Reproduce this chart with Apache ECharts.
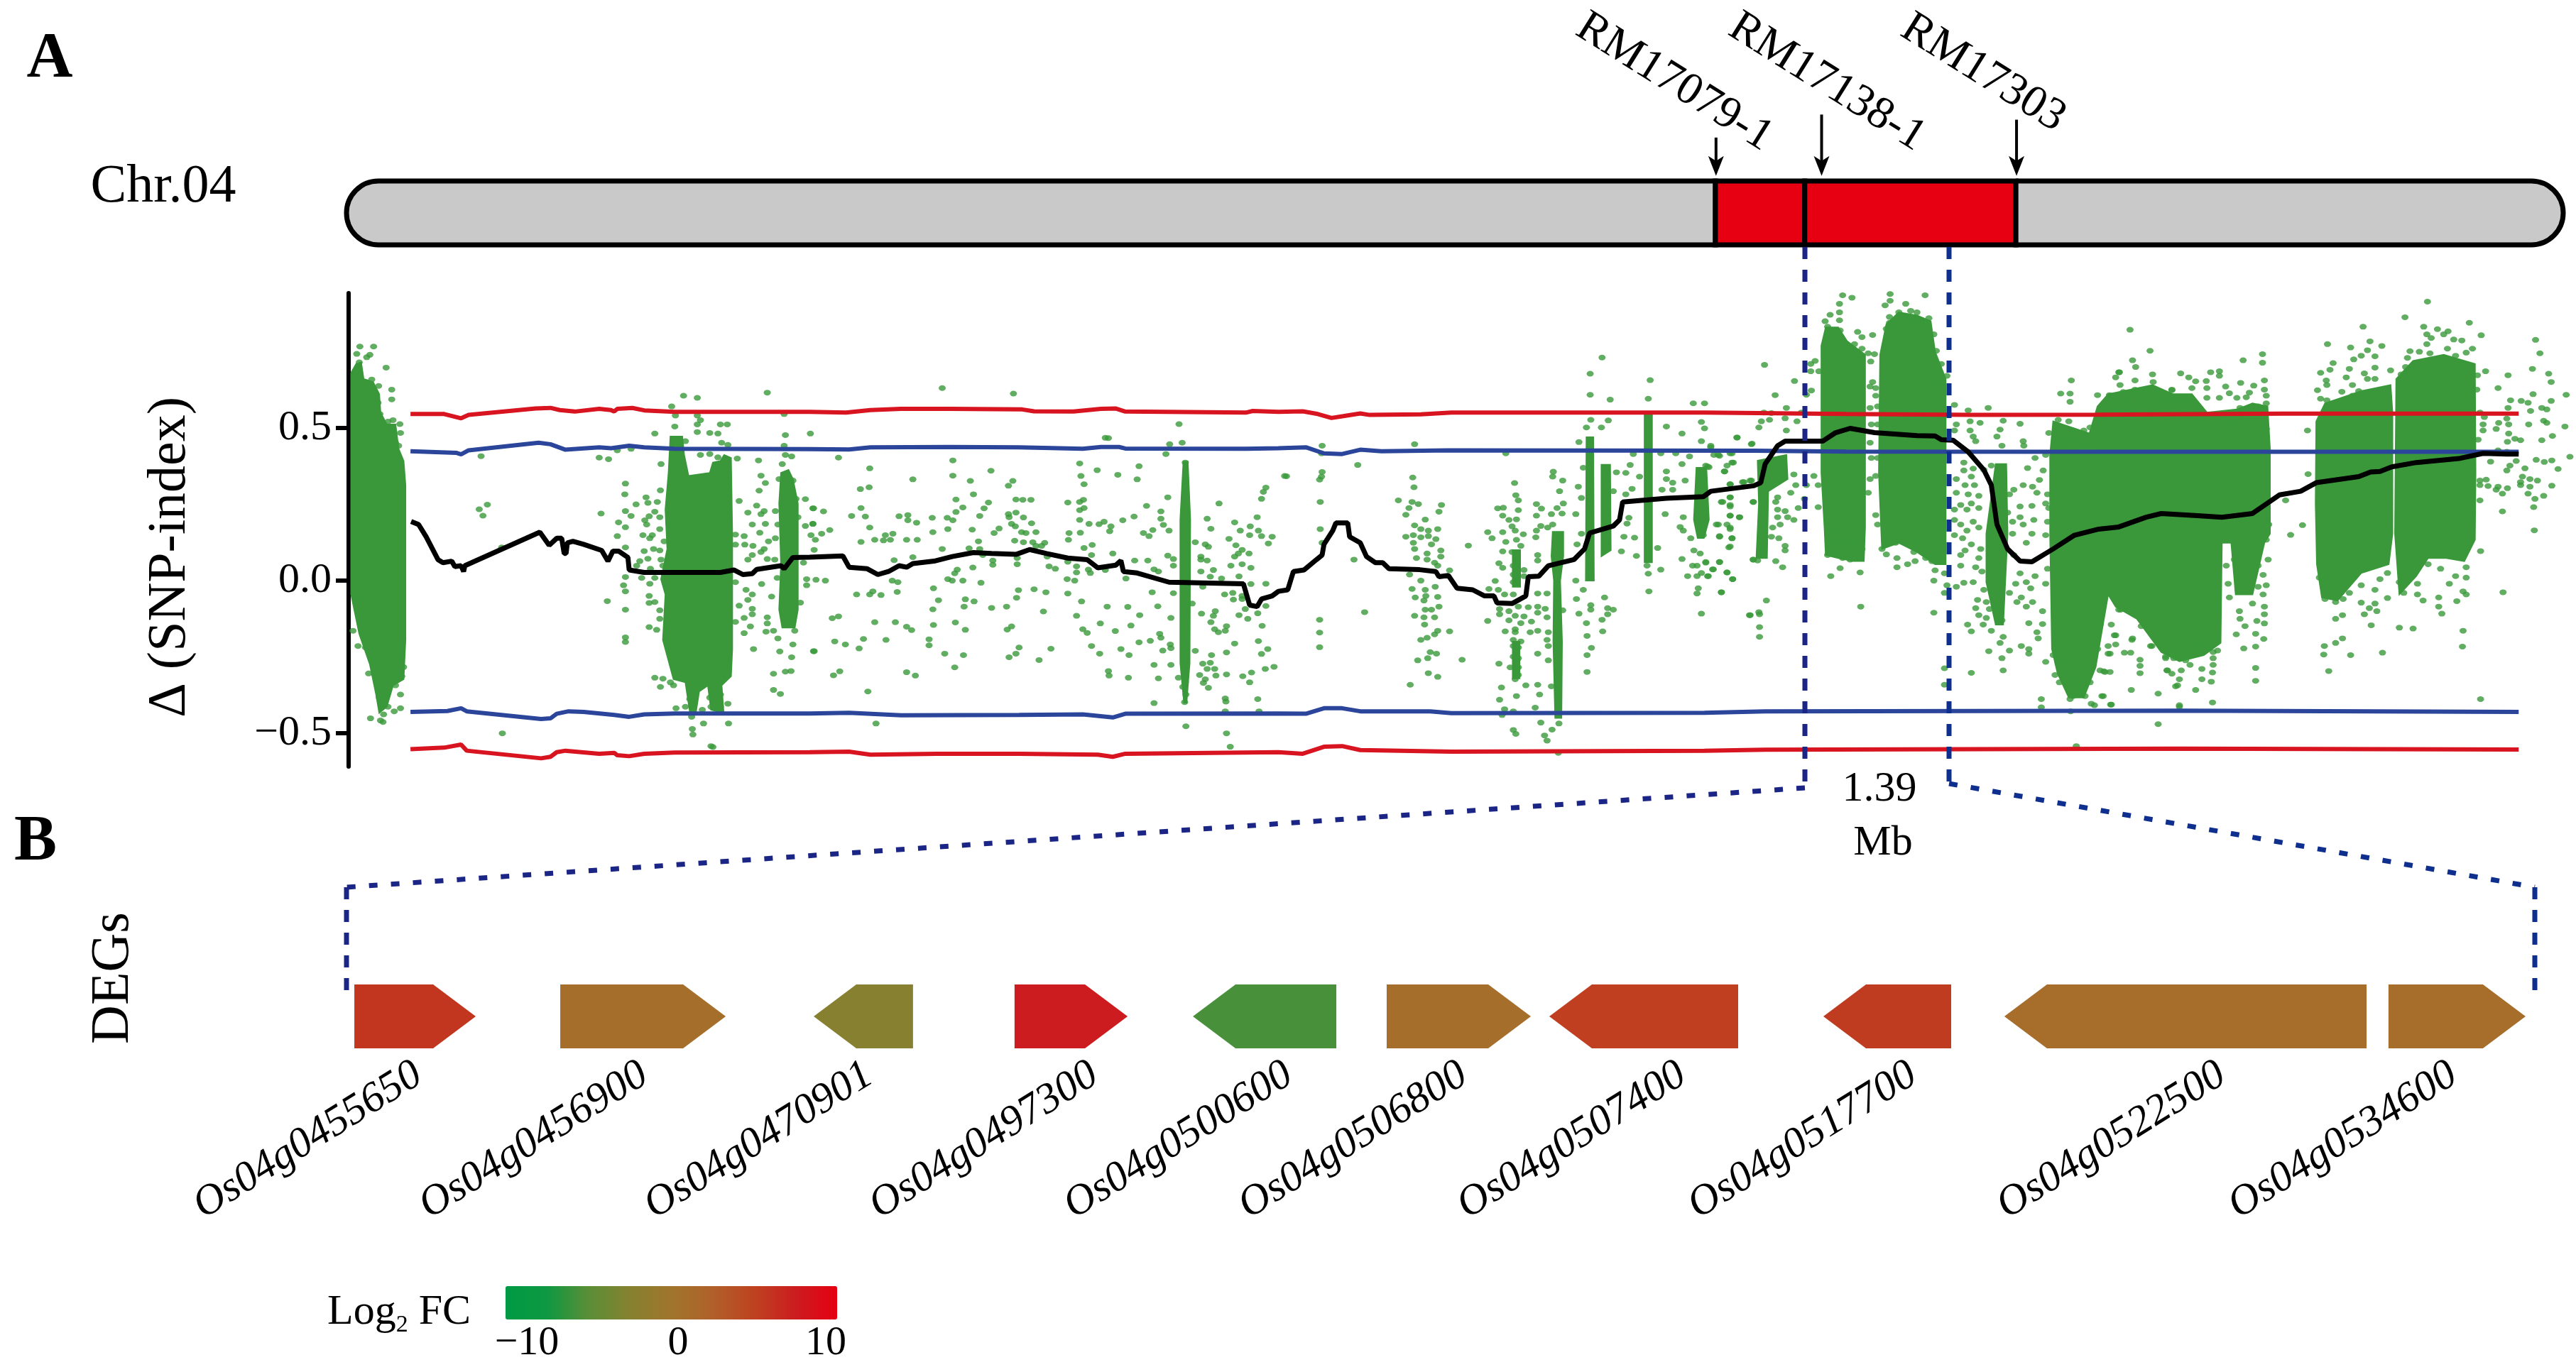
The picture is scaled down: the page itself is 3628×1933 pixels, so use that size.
<!DOCTYPE html>
<html><head><meta charset="utf-8">
<style>html,body{margin:0;padding:0;background:#fff}#c{width:3628px;height:1933px}</style>
<script src="https://cdn.jsdelivr.net/npm/echarts@6/dist/echarts.min.js"></script>
</head><body><div id="c"></div>
<script>
// Positions are in Mb along chromosome 4; y values are delta SNP-index.
const redUpper=[[1.02,.546],[1.56,.546],[1.83,.532],[1.95,.543],[3.02,.564],[3.26,.566],[3.41,.559],[3.65,.554],[4.04,.563],[4.23,.559],[4.28,.554],[4.33,.563],[4.57,.566],[4.76,.558],[5.25,.553],[7.41,.553],[7.99,.551],[8.38,.559],[8.87,.563],[9.64,.563],[10.81,.561],[11.0,.555],[11.63,.554],[12.07,.563],[12.31,.564],[12.46,.554],[14.40,.551],[14.50,.556],[14.91,.553],[15.30,.555],[15.54,.546],[15.76,.533],[15.95,.539],[16.22,.548],[16.37,.543],[17.19,.545],[17.68,.551],[21.73,.551],[24,.546],[26,.543],[28,.544],[31,.547],[34.76,.547]];
const blueUpper=[[1.02,.424],[1.75,.419],[1.83,.414],[1.95,.427],[3.07,.452],[3.26,.447],[3.50,.429],[4.04,.437],[4.23,.434],[4.52,.442],[4.76,.437],[5.25,.432],[7.41,.431],[8.04,.430],[8.38,.437],[9.64,.438],[10.76,.437],[11.78,.432],[12.07,.438],[12.36,.438],[12.46,.433],[14.40,.432],[14.91,.434],[15.35,.437],[15.64,.417],[15.93,.415],[16.22,.429],[16.56,.424],[17.63,.427],[22.52,.426],[24,.423],[28,.422],[34.76,.422]];
const blueLower=[[1.02,-.430],[1.61,-.427],[1.83,-.418],[1.92,-.428],[3.11,-.453],[3.26,-.451],[3.36,-.436],[3.55,-.428],[3.79,-.430],[4.28,-.440],[4.52,-.446],[4.76,-.438],[5.25,-.435],[7.41,-.435],[8.04,-.433],[8.87,-.441],[10.76,-.440],[11.78,-.438],[12.26,-.448],[12.46,-.436],[14.91,-.435],[15.35,-.436],[15.64,-.418],[15.93,-.418],[16.22,-.428],[17.34,-.428],[17.68,-.434],[21.73,-.433],[22.7,-.428],[29.34,-.426],[34.76,-.430]];
const redLower=[[1.02,-.552],[1.56,-.547],[1.83,-.537],[1.92,-.557],[3.11,-.582],[3.26,-.577],[3.36,-.562],[3.50,-.557],[4.04,-.567],[4.28,-.564],[4.33,-.572],[4.52,-.575],[4.76,-.567],[5.25,-.563],[7.41,-.562],[8.04,-.560],[8.38,-.570],[9.45,-.567],[10.76,-.567],[12.02,-.570],[12.26,-.577],[12.46,-.567],[14.91,-.562],[15.30,-.567],[15.64,-.544],[15.93,-.542],[16.22,-.555],[17.68,-.560],[21.73,-.557],[22.7,-.554],[29.34,-.550],[34.76,-.553]];
const snpIndexMean=[[1.03,.194],[1.15,.184],[1.27,.144],[1.46,.069],[1.54,.059],[1.68,.064],[1.73,.046],[1.83,.049],[1.87,.030],[1.89,.049],[3.09,.159],[3.24,.116],[3.36,.139],[3.44,.139],[3.48,.089],[3.51,.089],[3.53,.124],[3.62,.129],[3.79,.119],[4.08,.099],[4.18,.064],[4.26,.097],[4.35,.097],[4.50,.076],[4.52,.035],[4.76,.027],[5.98,.027],[6.20,.035],[6.34,.020],[6.49,.023],[6.56,.037],[6.95,.049],[7.00,.039],[7.14,.076],[7.41,.077],[7.94,.081],[8.04,.044],[8.33,.039],[8.50,.020],[8.67,.030],[8.84,.049],[8.96,.044],[9.06,.056],[9.40,.064],[9.69,.079],[10.03,.092],[10.32,.089],[10.71,.086],[10.93,.102],[11.20,.089],[11.54,.074],[11.85,.069],[12.02,.042],[12.31,.051],[12.39,.066],[12.43,.030],[12.65,.025],[13.16,-.005],[14.35,-.010],[14.45,-.080],[14.57,-.085],[14.64,-.060],[14.81,-.050],[14.91,-.035],[15.06,-.030],[15.15,.030],[15.32,.035],[15.52,.069],[15.61,.084],[15.64,.119],[15.78,.164],[15.83,.189],[16.02,.189],[16.05,.144],[16.22,.124],[16.32,.079],[16.46,.059],[16.58,.059],[16.68,.039],[17.17,.036],[17.43,.030],[17.48,.013],[17.63,.017],[17.77,-.025],[18.02,-.030],[18.21,-.050],[18.36,-.050],[18.41,-.073],[18.65,-.075],[18.87,-.050],[18.91,.013],[19.08,.015],[19.23,.049],[19.64,.069],[19.81,.104],[19.89,.156],[20.27,.179],[20.37,.199],[20.42,.258],[21.12,.270],[21.71,.275],[21.83,.293],[22.52,.311],[22.63,.321],[22.70,.382],[22.90,.442],[23.02,.457],[23.62,.457],[23.82,.484],[24.06,.499],[24.45,.485],[25.13,.475],[25.42,.474],[25.52,.462],[25.71,.460],[25.95,.422],[26.20,.363],[26.32,.313],[26.41,.184],[26.58,.104],[26.78,.064],[26.97,.062],[27.31,.104],[27.65,.149],[28.04,.169],[28.36,.176],[28.80,.208],[29.04,.220],[29.62,.213],[30.01,.208],[30.50,.220],[30.93,.281],[31.27,.293],[31.52,.321],[32.20,.341],[32.39,.356],[32.54,.358],[32.73,.373],[33.12,.387],[33.80,.400],[34.19,.417],[34.57,.415],[34.76,.415]];

// Outlines of the regions where SNPs overlap into solid colour: [Mb, delta SNP-index]
const denseSnpAreas=[
[[.07,.681],[.15,.710],[.23,.715],[.27,.661],[.42,.651],[.52,.611],[.54,.551],[.64,.512],[.78,.512],[.83,.432],[.91,.392],[.94,.313],[.94,-.194],[.91,-.323],[.74,-.343],[.64,-.413],[.52,-.433],[.47,-.373],[.37,-.274],[.20,-.174],[.07,-.045]],
[[5.18,.472],[5.37,.472],[5.40,.412],[5.47,.343],[5.81,.353],[5.86,.387],[5.98,.392],[6.04,.412],[6.15,.402],[6.17,.154],[6.17,-.224],[6.15,-.313],[6.00,-.343],[6.03,-.428],[5.93,-.428],[5.83,-.423],[5.78,-.343],[5.64,-.363],[5.59,-.428],[5.49,-.428],[5.42,-.333],[5.23,-.323],[5.06,-.194],[5.10,-.045],[5.03,.005],[5.13,.104],[5.10,.233],[5.15,.353]],
[[6.95,.353],[7.07,.363],[7.14,.333],[7.22,.253],[7.22,-.095],[7.17,-.154],[6.97,-.154],[6.92,-.095],[6.95,.054],[6.92,.253]],
[[13.39,.39],[13.46,.39],[13.50,.2],[13.49,-.27],[13.44,-.40],[13.40,-.40],[13.34,-.27],[13.34,.2]],
[[18.66,.1],[18.78,.1],[18.78,-.02],[18.66,-.02]],
[[18.66,-.20],[18.77,-.20],[18.77,-.32],[18.66,-.32]],
[[19.30,.16],[19.47,.16],[19.47,.08],[19.42,0],[19.45,-.2],[19.44,-.45],[19.34,-.45],[19.31,-.2],[19.32,0],[19.28,.08]],
[[19.84,.47],[19.95,.47],[19.96,0],[19.83,0]],
[[20.08,.38],[20.22,.38],[20.23,.1],[20.08,.08]],
[[20.77,.55],[20.89,.55],[20.89,.06],[20.77,.06]],
[[21.60,.37],[21.76,.37],[21.80,.2],[21.72,.14],[21.62,.14],[21.56,.2]],
[[22.58,.393],[23.04,.412],[23.06,.333],[22.75,.293],[22.73,.074],[22.56,.074],[22.60,.253]],
[[23.60,.770],[23.67,.830],[23.87,.830],[24.01,.785],[24.30,.740],[24.30,.174],[24.28,.064],[24.11,.064],[23.87,.074],[23.67,.084],[23.65,.174],[23.60,.353]],
[[24.54,.740],[24.64,.840],[24.84,.879],[25.13,.869],[25.35,.850],[25.42,.750],[25.59,.661],[25.59,.054],[25.42,.054],[25.13,.094],[24.84,.124],[24.57,.104],[24.52,.353]],
[[26.39,.382],[26.56,.382],[26.58,.154],[26.51,-.144],[26.39,-.144],[26.24,-.005],[26.24,.154]],
[[27.26,.412],[27.31,.522],[27.89,.482],[28.02,.571],[28.19,.611],[28.90,.641],[29.23,.611],[29.53,.611],[29.77,.551],[30.25,.561],[30.50,.581],[30.74,.571],[30.78,.432],[30.78,.154],[30.69,.124],[30.50,-.045],[30.23,-.045],[30.16,.124],[30.01,.124],[29.99,-.204],[29.72,-.244],[29.33,-.264],[29.04,-.234],[28.65,-.125],[28.31,-.085],[28.19,-.045],[27.99,-.283],[27.80,-.383],[27.56,-.383],[27.38,-.303],[27.29,-.224],[27.26,.154]],
[[31.52,.522],[31.66,.581],[31.95,.601],[32.24,.621],[32.71,.641],[32.74,.551],[32.74,.154],[32.68,.054],[32.24,.025],[31.86,-.065],[31.61,-.055],[31.53,.054],[31.51,.253]],
[[32.80,.661],[33.07,.720],[33.56,.740],[34.06,.710],[34.07,.353],[34.06,.134],[33.89,.064],[33.60,.074],[33.31,.074],[33.12,.015],[32.85,-.045],[32.78,.154]]
];

const dotsFirstRegion=[[.21,.767],[.43,.767],[.16,.743],[.37,.740],[.32,.732],[.20,.715],[.63,.698],[.40,.659],[.51,.638],[.72,.626],[.72,.594],[.50,.583],[.53,.546],[.74,.526],[.85,.513],[.66,.521],[.73,.497],[.86,.484],[.78,.452],[.83,.442],[2.15,.408],[2.12,.234],[2.25,.249],[2.18,.213],[2.48,.109],[.13,-.055],[.10,-.164],[.23,-.105],[.27,-.184],[.18,-.214],[.40,-.254],[.30,-.219],[.35,-.304],[.44,-.304],[.52,-.353],[.64,-.373],[.57,-.413],[.66,-.413],[.76,-.428],[.86,-.418],[.86,-.373],[.78,-.343],[.88,-.313],[.91,-.283],[.52,-.383],[.59,-.438],[.38,-.451],[.54,-.458],[.58,-.463],
[5.39,.606],[5.61,.599],[5.20,.571],[5.26,.541],[5.61,.541],[5.66,.526],[5.25,.505],[5.61,.512],[5.98,.512],[6.09,.512],[5.81,.484],[5.94,.482],[5.61,.487],[4.93,.482],[6.00,.452],[6.10,.445],[5.42,.457],[4.04,.403],[4.19,.398],[4.33,.427],[4.55,.432],[6.25,.400],[5.03,.382],[5.66,.412],[5.81,.415],[5.94,.404],[4.46,.318],[4.45,.283],[5.02,.296],[4.79,.273],[4.63,.250],[4.82,.255],[4.97,.258],[4.07,.220],[4.46,.228],[4.55,.212],[4.93,.226],[4.84,.211],[5.01,.208],[4.77,.198],[4.35,.191],[4.80,.184],[4.46,.175],[5.01,.169],[4.33,.146],[4.74,.149],[4.89,.149],[4.85,.139],[5.08,.129],[4.76,.097],[4.91,.104],[5.01,.099],[4.46,.109],[4.82,.072],[4.69,.064],[4.64,.049],[5.03,.069],[5.06,.049],[4.86,.039],[4.72,.009],[4.93,.009],[4.46,.012],[4.85,-.010],[4.43,-.015],[4.46,-.035],[4.17,-.067],[4.84,-.050],[4.84,-.073],[4.93,-.070],[5.01,-.097],[4.46,-.095],[5.01,-.125],[4.84,-.152],[4.96,-.161],[4.46,-.186],[4.46,-.201],[4.93,-.318],[5.06,-.321],[5.02,-.348],[5.18,-.333],[5.23,-.343],
[5.49,-.388],[5.42,-.413],[5.27,-.418],[5.54,-.413],[5.69,-.423],[5.83,-.413],[5.98,-.413],[6.10,-.403],[5.52,-.446],[5.71,-.468],[6.11,-.468],[5.53,-.486],[5.54,-.504],[5.83,-.542],[2.49,-.500],[5.86,-.545],[5.56,-.363],[5.81,-.383],[5.98,-.373],[6.08,-.313],[5.59,-.343],
[6.73,.616],[7.00,.546],[7.02,.477],[7.42,.482],[7.00,.442],[7.02,.412],[7.12,.407],[6.59,.394],[6.97,.382],[6.63,.344],[6.70,.320],[6.92,.333],[7.14,.328],[6.60,.295],[6.28,.261],[7.19,.268],[7.34,.267],[6.56,.246],[6.42,.223],[6.68,.228],[6.86,.228],[6.63,.218],[7.46,.237],[7.22,.208],[6.49,.184],[6.70,.186],[6.90,.184],[7.34,.179],[7.46,.186],[6.22,.151],[6.36,.146],[6.61,.157],[6.86,.139],[6.75,.129],[6.22,.118],[6.37,.118],[6.50,.114],[6.68,.104],[6.63,.094],[6.49,.084],[6.42,.069],[6.73,.071],[6.85,.069],[7.31,.059],[6.89,.009],[7.36,.005],[6.22,-.005],[6.64,-.011],[7.36,-.015],[6.39,-.030],[6.49,-.045],[6.42,-.063],[6.80,-.052],[7.26,-.072],[6.28,-.082],[6.49,-.092],[6.49,-.110],[6.36,-.122],[6.73,-.120],[6.22,-.135],[6.73,-.140],[6.46,-.150],[6.36,-.172],[6.71,-.167],[6.83,-.164],[6.90,-.189],[7.17,-.164],[7.14,-.209],[6.51,-.224],[6.93,-.232],[7.47,-.231],[7.12,-.251],[6.83,-.305],[7.02,-.298],[7.11,-.296],[6.83,-.358],[6.94,-.371]];

const dotsSecondRegion=[[9.53,.631],[10.67,.613],[7.87,.403],[8.37,.368],[9.70,.394],[10.31,.360],[9.06,.332],[9.70,.344],[9.98,.327],[10.66,.327],[10.59,.311],[8.22,.300],[8.36,.306],[10.03,.283],[9.75,.266],[10.27,.256],[10.71,.266],[10.82,.265],[10.95,.265],[9.86,.240],[10.20,.237],[9.75,.225],[8.23,.238],[7.47,.237],[7.63,.227],[8.08,.212],[8.30,.210],[8.84,.211],[8.98,.215],[8.98,.198],[9.37,.206],[9.61,.206],[9.70,.198],[10.13,.212],[10.59,.218],[10.71,.223],[10.60,.208],[10.83,.207],[10.64,.186],[10.96,.188],[9.12,.190],[7.46,.186],[8.37,.174],[9.62,.169],[10.01,.167],[10.44,.171],[10.70,.178],[7.73,.166],[9.38,.159],[10.36,.156],[10.80,.159],[11.03,.159],[10.87,.156],[7.60,.154],[8.62,.149],[8.74,.154],[7.43,.149],[8.45,.134],[8.59,.132],[8.70,.134],[8.96,.134],[9.13,.134],[7.50,.134],[8.23,.127],[10.11,.129],[10.69,.131],[10.83,.126],[10.98,.126],[11.17,.124],[7.48,.101],[9.53,.104],[9.96,.106],[10.13,.104],[11.03,.114],[11.12,.114],[9.06,.077],[8.76,.067],[10.18,.084],[11.21,.079],[10.34,.066],[10.34,.052],[10.73,.074],[10.73,.054],[10.02,.043],[11.24,.047],[11.34,.039],[9.77,.036],[9.73,.024],[9.62,.005],[9.69,0],[9.86,0],[10.15,-.007],[7.51,.003],[7.66,0],[8.73,0],[8.82,-.005],[9.39,-.025],[8.81,-.037],[8.16,-.045],[8.37,-.045],[8.42,-.035],[8.55,-.047],[10.75,-.031],[11.0,-.028],[11.19,-.038],[9.47,-.064],[9.90,-.061],[10.04,-.068],[10.72,-.056],[9.88,-.085],[9.38,-.094],[10.32,-.089],[10.56,-.085],[11.15,-.101],[7.77,-.123],[7.87,-.117],[8.45,-.136],[8.78,-.136],[9.74,-.137],[9.39,-.145],[8.96,-.151],[9.04,-.162],[9.90,-.161],[10.64,-.150],[10.57,-.160],[7.81,-.199],[7.98,-.209],[8.27,-.191],[8.63,-.194],[9.32,-.192],[9.32,-.212],[7.48,-.231],[8.20,-.222],[9.57,-.239],[9.87,-.244],[10.76,-.219],[10.71,-.239],[10.60,-.251],[11.27,-.223],[11.08,-.260],[9.73,-.284],[7.79,-.310],[7.89,-.297],[8.96,-.300],[9.10,-.311],[8.34,-.363],[8.47,-.468],
[11.73,.384],[12.01,.362],[12.34,.347],[12.68,.375],[12.65,.332],[11.75,.343],[11.80,.316],[12.14,.468],[12.19,.467],[13.32,.513],[13.17,.447],[13.37,.452],[13.11,.415],[15.01,.343],[11.54,.256],[11.73,.258],[11.79,.265],[13.14,.273],[14.71,.305],[14.67,.291],[14.64,.268],[13.96,.253],[11.73,.231],[11.80,.238],[12.80,.245],[13.03,.227],[12.42,.198],[12.60,.210],[13.03,.203],[11.73,.199],[11.88,.186],[12.04,.185],[12.12,.193],[13.77,.203],[14.21,.191],[14.57,.208],[13.07,.183],[12.23,.178],[13.83,.170],[14.46,.178],[12.21,.162],[12.90,.166],[13.16,.164],[14.30,.164],[14.59,.164],[11.56,.156],[11.74,.157],[12.75,.156],[14.45,.149],[14.64,.146],[14.81,.144],[12.84,.146],[11.55,.134],[14.12,.137],[13.58,.126],[14.75,.122],[11.93,.117],[11.80,.107],[13.74,.119],[14.23,.116],[13.79,.111],[14.33,.101],[14.44,.089],[12.26,.089],[14.27,.089],[13.67,.079],[14.21,.079],[13.14,.082],[13.23,.071],[11.92,.084],[12.61,.066],[12.82,.066],[13.77,.066],[13.67,.069],[11.54,.062],[11.68,.047],[13.23,.049],[14.15,.049],[14.33,.054],[14.47,.042],[12.92,.037],[11.87,.036],[12.14,.035],[11.68,.027],[11.90,.025],[12.99,.030],[13.67,.030],[13.87,.035],[13.82,.013],[14.28,.014],[14.0,.007],[12.47,.007],[11.53,.005],[11.65,0],[14.47,-.011],[14.71,-.010],[13.70,-.020],[11.54,-.042],[12.89,-.038],[13.23,-.041],[14.05,-.045],[14.18,-.040],[14.19,-.062],[14.33,-.050],[14.33,-.060],[11.76,-.068],[12.17,-.085],[12.50,-.086],[12.98,-.084],[13.53,-.075],[14.71,-.083],[14.38,-.093],[13.90,-.100],[13.68,-.108],[14.58,-.107],[14.28,-.113],[11.68,-.115],[12.69,-.113],[13.87,-.115],[13.19,-.122],[14.42,-.125],[12.06,-.140],[13.83,-.136],[12.55,-.147],[14.65,-.148],[13.89,-.159],[11.78,-.159],[11.85,-.171],[12.30,-.165],[14.08,-.149],[13.95,-.169],[14.06,-.164],[13.01,-.174],[13.03,-.187],[12.86,-.197],[12.68,-.202],[14.59,-.198],[13.18,-.209],[14.21,-.206],[11.92,-.214],[12.39,-.224],[13.19,-.221],[13.06,-.229],[14.74,-.224],[12.05,-.239],[12.52,-.244],[13.58,-.230],[14.08,-.235],[14.64,-.240],[13.84,-.244],[12.92,-.276],[13.19,-.276],[13.70,-.272],[13.82,-.269],[13.77,-.289],[13.89,-.289],[14.84,-.282],[14.70,-.289],[12.19,-.296],[12.20,-.311],[12.51,-.318],[12.99,-.320],[13.31,-.318],[13.65,-.309],[14.08,-.307],[13.91,-.311],[14.34,-.313],[14.48,-.301],[13.74,-.323],[13.71,-.335],[14.45,-.333],[13.79,-.351],[13.38,-.348],[13.43,-.373],[13.41,-.398],[14.06,-.386],[14.07,-.396],[14.58,-.388],[12.92,-.401],[14.06,-.428],[14.60,-.428],[13.43,-.477],[14.08,-.500],[14.14,-.544],[13.42,.387],[13.42,-.313],[13.42,-.333]];

const dotsThirdRegion=[[15.04,.342],[16.18,.379],[15.61,.442],[15.60,.417],[15.61,.356],[15.60,.341],[15.57,.331],[15.58,.258],[15.58,.169],[15.61,.124],[16.12,.069],[17.95,.115],[16.29,-.103],[15.57,-.128],[15.57,-.170],[15.57,-.218],
[17.09,.447],[17.06,.338],[17.08,.306],[16.83,.263],[17.05,.258],[17.15,.251],[17.0,.238],[16.95,.216],[17.52,.248],[17.48,.226],[17.26,.200],[17.09,.181],[17.19,.169],[17.31,.164],[17.46,.169],[16.95,.144],[17.07,.149],[17.19,.142],[17.31,.146],[17.43,.136],[17.07,.124],[17.36,.119],[17.09,.104],[17.51,.099],[17.29,.089],[17.51,.079],[17.12,.074],[17.29,.069],[17.41,.059],[17.46,.049],[17.65,.034],[17.01,.020],[17.19,0],[17.05,-.027],[17.26,-.030],[17.42,-.020],[17.10,-.055],[17.27,-.050],[17.46,-.053],[17.24,-.065],[17.48,-.085],[17.26,-.095],[17.36,-.095],[17.09,-.115],[17.24,-.120],[17.41,-.120],[17.25,-.144],[17.46,-.164],[17.65,-.166],[17.41,-.176],[17.19,-.194],[17.29,-.187],[17.34,-.234],[17.44,-.239],[17.30,-.254],[17.14,-.261],[17.85,-.259],[17.31,-.303],[17.46,-.315],[17.02,-.341],
[18.69,.320],[18.71,.280],[18.75,.263],[18.42,.237],[18.51,.239],[18.75,.231],[18.50,.213],[18.60,.199],[18.72,.201],[18.65,.178],[18.26,.159],[18.50,.159],[18.70,.164],[18.83,.152],[18.33,.139],[18.55,.127],[18.72,.134],[18.79,.114],[18.50,.096],[18.65,.094],[18.72,.074],[18.44,.057],[18.67,.049],[18.50,.042],[18.84,.035],[18.67,.020],[18.84,.015],[18.67,-.005],[18.38,-.001],[18.28,-.027],[18.43,-.030],[18.53,-.045],[18.67,-.045],[18.75,-.085],[18.45,-.093],[18.60,-.100],[18.45,-.110],[18.70,-.115],[18.84,-.117],[18.60,-.130],[18.26,-.132],[18.79,-.139],[18.96,-.134],[18.70,-.159],[18.54,-.166],[18.70,-.169],[18.94,-.169],[19.06,-.164],[18.67,-.194],[18.79,-.199],[18.67,-.214],[18.75,-.219],[18.67,-.249],[18.75,-.254],[18.44,-.272],[18.62,-.284],[18.75,-.284],[18.75,-.309],[18.70,-.323],[18.87,-.343],[18.48,-.350],[18.45,-.390],[18.72,-.378],[18.53,-.421],[18.49,-.440],[18.67,-.489],[18.71,-.502],[18.67,-.428],[18.55,.417],
[19.04,.251],[19.12,.236],[19.04,.213],[19.28,.218],[19.11,.179],[19.30,.184],[19.04,.164],[19.22,.174],[19.03,.142],[19.06,.084],[19.06,.066],[19.31,.357],[19.30,.341],[19.46,.328],[19.41,.293],[19.47,.253],[19.37,.238],[19.45,.220],[19.06,-.042],[19.21,-.042],[18.91,-.087],[19.06,-.085],[19.18,-.092],[19.06,-.105],[19.46,-.097],[19.21,-.120],[19.23,-.169],[19.21,-.194],[19.23,-.214],[19.06,-.239],[19.23,-.261],[19.06,-.341],[19.09,-.373],[19.28,-.346],[19.02,-.416],[19.11,-.465],[19.29,-.488],[19.40,-.468],[19.17,-.507],[19.21,-.524],[19.39,-.564],
[20.09,.731],[19.90,.678],[20.86,.657],[19.90,.609],[20.22,.593],[20.83,.596],[21.55,.581],[21.73,.581],[19.91,.527],[20.19,.525],[19.84,.502],[20.08,.502],[21.68,.520],[21.73,.499],[21.12,.505],[21.37,.482],[22.25,.469],[19.72,.454],[21.68,.457],[21.83,.442],[22.48,.447],[20.59,.415],[21.03,.417],[21.27,.417],[21.49,.407],[21.88,.412],[21.97,.409],[22.14,.417],[20.54,.379],[19.79,.370],[21.37,.382],[21.78,.374],[22.17,.387],[22.09,.377],[20.32,.355],[20.47,.353],[20.69,.341],[21.12,.358],[21.12,.333],[22.05,.358],[21.42,.328],[21.22,.321],[19.71,.308],[20.57,.301],[22.14,.316],[22.34,.323],[22.48,.328],[19.76,.271],[20.27,.293],[20.47,.283],[21.05,.298],[21.22,.298],[22.14,.273],[22.51,.258],[19.67,.218],[21.10,.218],[22.0,.258],[22.14,.243],[21.39,.208],[22.14,.213],[22.29,.208],[20.52,.206],[20.49,.187],[21.34,.176],[21.92,.184],[22.14,.169],[21.39,.164],[21.51,.139],[19.76,.154],[20.44,.144],[20.61,.141],[21.71,.149],[21.97,.146],[22.17,.139],[19.69,.119],[22.14,.112],[20.98,.107],[21.56,.099],[20.40,.096],[21.66,.089],[20.64,.081],[21.37,.071],[22.51,.069],[21.97,.061],[21.54,.049],[21.61,.049],[21.75,.059],[21.86,.037],[21.03,.036],[20.83,.023],[20.81,.049],[22.09,.027],[21.46,.015],[21.61,.015],[21.68,.025],[21.78,.015],[22.18,.005],[19.67,0],[19.79,-.030],[21.63,-.025],[20.84,-.035],[21.61,-.042],[22.0,-.038],[19.68,-.060],[20.13,-.055],[19.91,-.080],[19.91,-.095],[20.18,-.090],[20.27,-.095],[19.72,-.108],[20.18,-.110],[21.68,-.108],[20.09,-.128],[19.84,-.139],[20.10,-.166],[19.85,-.181],[19.92,-.220],[19.85,-.244],[19.85,-.299],[22.45,-.113]];

const dotsFourthRegion=[[22.69,.707],[23.17,.654],[22.86,.608],[23.43,.710],[23.50,.720],[23.43,.686],[23.56,.686],[23.44,.623],[23.36,.609],[23.04,.566],[22.68,.551],[22.80,.549],[23.28,.551],[22.64,.522],[22.77,.527],[23.02,.532],[22.60,.502],[23.04,.492],[23.21,.522],[22.25,.469],[21.83,.437],[22.49,.449],[21.95,.412],[22.17,.417],[22.19,.387],[21.75,.377],[22.05,.358],[21.80,.372],[22.36,.323],[22.46,.328],[22.14,.316],[23.16,.348],[23.19,.313],[23.48,.343],[23.36,.313],[23.55,.313],[22.02,.258],[22.14,.273],[23.11,.288],[22.90,.273],[23.33,.268],[23.55,.241],[22.87,.258],[22.51,.258],[22.14,.248],[23.23,.238],[22.90,.233],[23.02,.228],[22.29,.208],[22.14,.213],[22.90,.208],[23.06,.208],[23.16,.199],[22.82,.174],[22.94,.184],[21.95,.184],[22.09,.184],[21.97,.144],[22.14,.174],[22.80,.144],[22.92,.139],[22.17,.139],[22.12,.109],[23.02,.114],[23.02,.099],[21.97,.061],[22.58,.066],[22.51,.069],[22.87,.064],[22.98,.044],[21.75,.061],[21.87,.037],[22.09,.027],[21.79,.015],[22.18,.005],[22.0,-.038],[22.72,-.065],[22.60,-.103],[22.46,-.113],[22.61,-.110],[22.61,-.152],[22.61,-.184],
[23.94,.935],[24.09,.927],[23.89,.907],[23.89,.879],[23.74,.871],[23.89,.853],[23.66,.850],[23.70,.832],[23.90,.820],[24.18,.815],[24.25,.798],[24.25,.760],[24.13,.775],[24.35,.745],[24.45,.742],[24.39,.718],[24.42,.805],[24.70,.939],[25.26,.935],[24.70,.917],[24.62,.902],[24.95,.907],[24.84,.879],[25.03,.884],[25.13,.879],[24.69,.864],[25.32,.860],[24.91,.860],[24.69,.845],[25.08,.850],[25.30,.845],[24.64,.825],[25.40,.807],[25.44,.753],[25.52,.710],[25.47,.651],[25.61,.671],[24.42,.651],[24.47,.631],[24.38,.636],[24.47,.606],[24.38,.566],[24.50,.571],[24.40,.512],[24.50,.512],[24.38,.452],[24.50,.402],[24.40,.402],[24.47,.343],[24.38,.333],[24.35,.288],[24.47,.215],[24.50,.184],
[23.72,.154],[23.82,.169],[24.23,.154],[23.72,.124],[23.96,.154],[24.11,.124],[23.70,.084],[23.89,.084],[24.06,.069],[24.23,.074],[24.25,.104],[23.91,.129],[23.94,.074],[23.90,.041],[23.75,.015],[24.22,.027],[24.23,-.085],
[24.57,.104],[24.64,.086],[24.81,.074],[24.81,.044],[24.79,.124],[24.98,.054],[25.10,.064],[25.08,.094],[25.27,.074],[25.37,.064],[25.42,.034],[25.40,0],[25.57,.024],[25.61,-.015],[25.57,-.040],[25.44,.084],[24.84,.154],[25.13,.124],[25.40,-.105],[25.57,-.287],[25.57,-.341],
[25.73,.576],[25.95,.558],[26.27,.566],[25.98,.522],[26.14,.517],[26.51,.524],[26.78,.514],[25.98,.492],[26.46,.495],[26.03,.472],[26.41,.472],[26.07,.457],[26.83,.457],[26.84,.442],[25.76,.512],[25.73,.492],[26.49,.442],[25.88,.387],[25.88,.361],[26.03,.367],[26.90,.369],[26.32,.377],[27.02,.402],[27.15,.361],[27.09,.330],[26.0,.341],[26.20,.363],[25.76,.333],[25.90,.313],[26.05,.313],[26.83,.313],[26.68,.298],[26.98,.308],[25.76,.288],[25.95,.283],[26.12,.278],[26.61,.283],[27.05,.288],[27.22,.283],[25.83,.248],[26.0,.253],[26.78,.243],[26.97,.245],[27.19,.253],[25.73,.233],[25.93,.233],[26.12,.238],[26.58,.223],[27.24,.238],[26.78,.208],[27.0,.199],[25.73,.199],[26.03,.193],[26.66,.193],[27.22,.193],[25.83,.184],[25.93,.164],[26.12,.174],[26.83,.184],[26.97,.154],[27.19,.149],[25.73,.149],[26.66,.154],[25.86,.139],[26.0,.119],[26.88,.124],[26.15,.104],[25.90,.099],[25.83,.084],[26.68,.084],[26.12,.074],[25.83,.049],[26.07,.044],[27.22,.039],[26.78,.024],[27.02,.015],[27.19,-.010],[26.17,.030],[25.88,-.007],[26.03,-.005],[25.76,-.020],[26.20,-.030],[26.71,-.010],[26.88,-.005],[26.95,-.025],[26.61,-.040],[26.80,-.055],[26.98,-.070],[26.73,-.070],[26.10,-.063],[26.24,-.070],[26.88,-.085],[26.07,-.090],[26.29,-.093],[26.44,-.085],[26.12,-.113],[27.14,-.100],[26.49,-.130],[26.24,-.122],[26.92,-.139],[25.94,-.144],[26.19,-.144],[27.14,-.142],[26.0,-.166],[26.32,-.164],[27.05,-.169],[26.51,-.184],[27.07,-.189],[26.46,-.204],[26.80,-.214],[26.92,-.224],[26.28,-.231],[26.61,-.229],[26.92,-.239],[26.49,-.254],[27.19,-.266],[26.51,-.294],[26.0,-.302],[27.12,-.388],[27.12,-.415],[27.59,-.428],[28.99,-.370],[28.99,-.470],[27.68,-.542],
[27.60,.656],[27.43,.613],[27.58,.613],[27.58,.586],[27.39,.527],[27.56,.522],[27.24,.484],[27.36,.465],[27.58,.465],[27.80,.492],[27.90,.502],[27.46,.447],[27.63,.492],[27.70,.447],[27.82,.452],[27.19,.412],[28.02,.608],[28.21,.608],[28.43,.618],[28.54,.822],[28.86,.753],[28.58,.722],[28.63,.700],[28.37,.683],[28.31,.666],[28.90,.676],[28.62,.656],[28.38,.641],[28.91,.651],[28.62,.626],[28.77,.626],[29.21,.626],[28.45,.591],[29.0,.596],[29.21,.601],[28.26,.606],
[27.31,-.244],[27.39,-.269],[27.34,-.309],[27.41,-.333],[27.60,-.313],[27.53,-.333],[27.68,-.333],[27.63,-.378],[27.75,-.363],[27.82,-.378],[27.58,-.388],[27.90,-.333],[27.92,-.403],[27.97,-.408],[28.06,-.294],[28.14,-.299],[28.09,-.378],[28.24,-.406],[28.02,-.224],[28.19,-.214],[28.31,-.209],[28.19,-.239],[28.45,-.236],[28.55,-.236],[28.70,-.259],[28.70,-.279],[28.70,-.303],[28.56,-.358],[29.11,-.249],[29.13,-.294],[29.30,-.343],[29.33,-.408],[28.24,-.144],[28.06,-.144],[28.31,-.179],[28.36,-.095],[28.57,-.194],[28.72,-.149],[28.89,-.214],[28.67,-.105]];

const dotsFifthRegion=[[28.36,.683],[29.35,.679],[29.48,.666],[29.59,.653],[29.83,.683],[29.97,.686],[29.97,.671],[29.76,.654],[29.77,.631],[30.07,.636],[30.31,.648],[30.52,.639],[30.69,.656],[30.35,.722],[30.66,.742],[30.66,.714],[30.69,.626],[30.13,.614],[30.45,.616],[29.53,.631],[29.21,.624],[29.24,.601],[29.48,.601],[29.77,.599],[29.97,.599],[30.25,.599],[30.40,.601],[30.59,.571],[30.72,.606],[30.72,.581],[30.30,.566],[30.47,.526],[29.99,.526],[30.16,.517],[30.62,.487],[30.72,.497],[29.14,.586],[29.53,.581],
[31.38,.492],[31.39,.349],[31.03,.263],[31.30,.182],[31.11,.150],[30.75,.069],[30.76,.184],[30.72,.134],
[30.21,.069],[30.08,.049],[30.11,-.010],[30.13,-.055],[30.50,-.075],[30.67,-.045],[30.59,-.020],[30.72,-.015],[30.67,.019],[30.59,.049],[30.69,-.085],[30.69,-.110],[30.69,-.140],[30.57,-.132],[30.29,-.100],[30.30,-.125],[30.38,-.149],[30.24,-.176],[30.55,-.174],[30.68,-.191],[30.55,-.216],[30.36,-.222],[30.55,-.286],[30.55,-.328],[29.87,-.234],[29.94,-.229],[29.87,-.254],[29.87,-.276],[29.86,-.301],[29.84,-.331],[29.69,-.289],[29.69,-.323],[29.27,-.346],[29.59,-.358],[29.86,-.399],[29.33,-.413],[29.33,-.323],[29.50,-.276],[29.43,-.261],[29.24,-.254],[29.11,-.254],[29.14,-.294],[29.21,-.305],[29.36,-.294],[29.67,-.214],[29.55,-.192],[28.87,-.214],[29.04,-.219],[29.36,-.214],[28.29,-.179],[28.58,-.189],[28.39,-.095],[28.22,-.239],[28.11,-.378],[28.23,-.406],[28.22,-.299],[28.12,-.297],
[31.70,.775],[32.07,.764],[32.27,.832],[32.38,.784],[32.34,.755],[32.57,.769],[31.79,.713],[32.12,.725],[32.24,.737],[32.46,.735],[31.74,.691],[31.59,.681],[32.05,.694],[32.46,.698],[32.71,.689],[32.29,.679],[32.0,.666],[31.68,.656],[32.34,.661],[32.46,.661],[31.69,.641],[32.10,.641],[31.54,.624],[31.93,.619],[32.20,.621],[31.59,.596],[32.10,.606],[31.69,.591],[32.94,.863],[33.30,.914],[33.24,.832],[33.46,.824],[33.63,.817],[33.97,.845],[34.16,.804],[33.29,.807],[33.56,.807],[33.36,.795],[33.72,.790],[33.85,.787],[33.29,.775],[33.62,.760],[34.02,.760],[33.02,.752],[33.17,.750],[33.34,.745],[33.92,.747],[33.75,.737],[32.98,.730],[32.95,.700],[32.88,.676],[33.85,.710],[34.10,.673],[34.23,.686],[34.09,.626],
[35.03,.789],[35.10,.745],[34.98,.694],[35.24,.678],[34.59,.673],[35.28,.651],[34.43,.631],[34.99,.611],[35.52,.609],[34.63,.591],[34.80,.589],[35.28,.589],[34.91,.583],[34.59,.566],[35.13,.566],[34.95,.556],[35.21,.561],[34.14,.551],[34.21,.536],[34.57,.531],[35.16,.524],[34.92,.512],[35.21,.517],[34.44,.517],[34.19,.512],[34.60,.512],[35.50,.505],[34.40,.497],[34.19,.492],[34.60,.482],[35.30,.474],[34.11,.462],[34.70,.465],[34.79,.460],[34.58,.455],[35.13,.460],[34.43,.427],[34.57,.422],[35.58,.406],[34.31,.390],[34.72,.392],[35.04,.396],[35.17,.389],[35.29,.394],[34.62,.377],[34.86,.368],[35.39,.366],[34.57,.361],[34.82,.341],[34.14,.328],[34.24,.331],[34.94,.333],[35.06,.328],[34.79,.323],[34.14,.313],[34.27,.310],[34.79,.313],[35.29,.311],[34.43,.308],[34.58,.303],[34.94,.308],[34.40,.298],[34.50,.285],[34.91,.285],[35.16,.278],[35.02,.268],[34.14,.263],[35.0,.241],[34.50,.227],[35.01,.165],[34.15,.097],[34.51,-.038],[34.15,-.388],
[31.57,.010],[31.71,-.010],[31.93,.005],[32.12,.010],[32.24,-.015],[32.46,-.030],[32.66,.025],[32.54,.005],[31.66,-.060],[31.83,-.070],[32.05,-.040],[31.95,-.060],[32.66,-.057],[32.24,-.072],[32.46,-.075],[32.37,-.090],[32.49,-.100],[32.29,-.110],[31.83,-.125],[31.94,-.113],[32.40,-.146],[31.65,-.214],[31.83,-.204],[31.94,-.189],[31.64,-.242],[32.07,-.244],[32.58,-.236],[31.72,-.296],[32.85,-.154],[33.07,-.157],[32.92,-.040],[33.14,-.045],[33.23,-.065],[33.48,-.055],[33.48,-.085],[33.53,-.108],[33.87,-.035],[33.77,-.067],[33.92,-.045],[33.87,-.164],[33.86,-.216],[33.14,-.010],[33.51,.039],[33.31,.054],[33.65,-.010],[33.75,.015],[33.92,.010],[33.92,.044],[32.85,-.005],[32.97,.005]];

const yTickValues=[-0.5,0,0.5];
const chromosomeSegments=[[0,21.91,0],[21.91,23.34,1],[23.34,26.72,1],[26.72,35.48,0]];
const markerNames=['RM17079-1','RM17138-1','RM17303'];
const markerPositions=[21.92,23.61,26.73];
const markerTails=[1.68,2.04,1.96];

const geneNames=['Os04g0455650','Os04g0456900','Os04g0470901','Os04g0497300','Os04g0500600','Os04g0506800','Os04g0507400','Os04g0517700','Os04g0522500','Os04g0534600'];
const geneStarts=[5,135.8,296.8,424.4,537.7,660.8,764.1,938.2,1053.2,1297.2];
const geneEnds=[82.1,240.9,359.9,496.2,628.8,752.4,884.1,1019.4,1283.3,1384.3];
const geneStrands=[1,1,-1,1,-1,1,-1,-1,-1,1];
const geneLog2FC=[6.3,0.8,-2.8,8.2,-6.4,0.8,5.65,5.9,0.9,0.9];
const colorTicks=['\u221210','0','10'];

const SERIF='"Liberation Serif","Times New Roman",serif';
const chart=echarts.init(document.getElementById('c'),null,{renderer:'canvas'});
const GREEN='#3A983A';
const hiddenAxis=(o)=>Object.assign({type:'value',show:false,splitLine:{show:false}},o);
const allDots=[].concat(dotsFirstRegion,dotsSecondRegion,dotsThirdRegion,dotsFourthRegion,dotsFifthRegion);

function areaItem(p,api){
  const pts=denseSnpAreas[api.value(0)].map(v=>api.coord(v));
  return {type:'polygon',shape:{points:pts},style:{fill:GREEN,stroke:GREEN,lineWidth:2}};
}
function segmentItem(p,api){
  const a=api.coord([api.value(0),1]),b=api.coord([api.value(1),0]);
  const first=p.dataIndex===0,last=p.dataIndex===chromosomeSegments.length-1;
  const r=first?[45,0,0,45]:last?[0,45,45,0]:0;
  return {type:'rect',shape:{x:a[0],y:a[1],width:b[0]-a[0],height:b[1]-a[1],r:r},
    style:{fill:api.value(2)?'#E60012':'#C9C9C9',stroke:'#000',lineWidth:7}};
}
function markerItem(p,api){
  const t=api.coord([api.value(0),1.08]),q=api.coord([api.value(0),api.value(1)]);
  return {type:'group',children:[
    {type:'line',shape:{x1:q[0],y1:q[1],x2:t[0],y2:t[1]-16},style:{stroke:'#000',lineWidth:4}},
    {type:'polygon',shape:{points:[[t[0],t[1]],[t[0]-11,t[1]-28],[t[0],t[1]-21],[t[0]+11,t[1]-28]]},style:{fill:'#000'}}
  ]};
}
function geneItem(p,api){
  const s=api.coord([api.value(0),1]),e=api.coord([api.value(1),0]);
  const y0=s[1],y1=e[1],ym=(y0+y1)/2,x0=s[0],x1=e[0],h=60;
  const pts=api.value(2)>0
    ?[[x0,y0],[x1-h,y0],[x1,ym],[x1-h,y1],[x0,y1]]
    :[[x0,ym],[x0+h,y0],[x1,y0],[x1,y1],[x0+h,y1]];
  return {type:'polygon',shape:{points:pts},style:{fill:api.visual('color')}};
}

function txt(text,x,y,size,o){
  o=o||{};
  return {type:'text',x:x,y:y,rotation:o.rot||0,z:100,silent:true,
    style:{text:text,x:0,y:0,fill:'#000',textAlign:'center',textVerticalAlign:'middle',align:'center',verticalAlign:'middle',
      font:(o.style||'')+' '+(o.weight||'')+' '+size+'px '+SERIF}};
}
const DEG=Math.PI/180;
const geneLabelX=[434,752,1069,1386,1660,1906,2214,2539,2974,3300];
const markerLabelAt=[[2358,116],[2573,116],[2793,103]];
const dashLine=(pts,dash,color)=>({type:'polyline',z:60,silent:true,shape:{points:pts},
  style:{stroke:color,lineWidth:7,lineDash:dash,fill:null}});

const graphics=[
  txt('A',70,85,90,{weight:'bold'}),
  txt('B',50,1188,90,{weight:'bold'}),
  txt('Chr.04',230,264,76),
  txt('\u0394 (SNP-index)',240,785,76,{rot:90*DEG}),
  txt('DEGs',160,1378,76,{rot:90*DEG}),
  txt('1.39',2647,1112,60),
  txt('Mb',2652,1188,60),
  dashLine([[2542,348],[2542,1110]],[17,15],'#1B2585'),
  dashLine([[2542,1110],[488,1250]],[12,19],'#1B2585'),
  dashLine([[488,1250],[488,1410]],[17,15],'#1B2585'),
  dashLine([[2745,348],[2745,1104]],[17,15],'#0F2F8F'),
  dashLine([[2745,1104],[3570,1250]],[12,19],'#0F2F8F'),
  dashLine([[3570,1250],[3570,1410]],[17,15],'#0F2F8F'),
  {type:'text',x:461,y:1849,z:100,silent:true,style:{
    text:'{a|Log}{s|2}{a| FC}',x:0,y:0,textAlign:'left',textVerticalAlign:'middle',align:'left',verticalAlign:'middle',fill:'#000',
    rich:{a:{fontFamily:SERIF,fontSize:60,lineHeight:70,fill:'#000',color:'#000'},
          s:{fontFamily:SERIF,fontSize:34,lineHeight:34,fill:'#000',color:'#000',verticalAlign:'bottom'}}}}
];
markerNames.forEach((n,i)=>graphics.push(txt(n,markerLabelAt[i][0],markerLabelAt[i][1],64,{rot:-32*DEG})));
geneNames.forEach((n,i)=>graphics.push(txt(n,geneLabelX[i],1607,60,{rot:32*DEG,style:'italic'})));
[742,955,1163].forEach((x,i)=>graphics.push(txt(colorTicks[i],x,1893,58)));

chart.setOption({
  animation:false,backgroundColor:'#fff',
  grid:[
    {left:491,top:413,width:3134.6,height:667,containLabel:false},
    {left:488,top:255,width:3122,height:90},
    {left:488,top:1387,width:3081.6,height:90}
  ],
  xAxis:[
    hiddenAxis({gridIndex:0,min:0.03,max:35.65}),
    hiddenAxis({gridIndex:1,min:0,max:35.48}),
    hiddenAxis({gridIndex:2,min:0,max:1390})
  ],
  yAxis:[
    {type:'value',gridIndex:0,min:-0.609,max:0.942,splitLine:{show:false},
     axisLine:{show:true,onZero:false,lineStyle:{color:'#000',width:6}},
     axisTick:{show:true,length:18,customValues:yTickValues,lineStyle:{color:'#000',width:6}},
     axisLabel:{show:true,customValues:yTickValues,margin:24,color:'#000',fontFamily:SERIF,fontSize:60,
       formatter:v=>v<0?'\u2212'+Math.abs(v).toFixed(1):v.toFixed(1)}},
    hiddenAxis({gridIndex:1,min:0,max:1}),
    hiddenAxis({gridIndex:2,min:0,max:1})
  ],
  visualMap:[{type:'continuous',seriesIndex:8,dimension:3,min:-11.3,max:11,show:true,orient:'horizontal',
    left:712,top:1812,itemWidth:47,itemHeight:467,padding:0,calculable:false,realtime:false,hoverLink:false,
    inRange:{color:['#009A44','#0F9843','#5A8E36','#868130','#A0752B','#B0602A','#BE4220','#CC1C1F','#E60012']},
    text:null,textStyle:{fontSize:1,color:'transparent'}}],
  graphic:graphics,
  tooltip:{show:false},
  series:[
    {type:'custom',xAxisIndex:0,yAxisIndex:0,z:2,silent:true,renderItem:areaItem,clip:false,data:denseSnpAreas.map((a,i)=>[i])},
    {type:'scatter',xAxisIndex:0,yAxisIndex:0,z:3,silent:true,symbol:'circle',symbolSize:[10,8],itemStyle:{color:GREEN},data:allDots,clip:false},
    {type:'line',xAxisIndex:0,yAxisIndex:0,z:4,silent:true,showSymbol:false,data:redUpper,lineStyle:{color:'#D7141F',width:6}},
    {type:'line',xAxisIndex:0,yAxisIndex:0,z:4,silent:true,showSymbol:false,data:blueUpper,lineStyle:{color:'#2A4599',width:6}},
    {type:'line',xAxisIndex:0,yAxisIndex:0,z:4,silent:true,showSymbol:false,data:blueLower,lineStyle:{color:'#2A4599',width:6}},
    {type:'line',xAxisIndex:0,yAxisIndex:0,z:4,silent:true,showSymbol:false,data:redLower,lineStyle:{color:'#D7141F',width:6}},
    {type:'line',xAxisIndex:0,yAxisIndex:0,z:5,silent:true,showSymbol:false,data:snpIndexMean,lineStyle:{color:'#000',width:7}},
    {type:'custom',xAxisIndex:1,yAxisIndex:1,z:6,silent:true,renderItem:segmentItem,data:chromosomeSegments,encode:{x:[0,1]}},
    {type:'custom',xAxisIndex:2,yAxisIndex:2,z:6,silent:true,renderItem:geneItem,clip:false,
      data:geneStarts.map((s,i)=>[s,geneEnds[i],geneStrands[i],geneLog2FC[i]]),encode:{x:[0,1]}},
    {type:'custom',xAxisIndex:1,yAxisIndex:1,z:6,silent:true,renderItem:markerItem,clip:false,
      data:markerPositions.map((m,i)=>[m,markerTails[i]]),encode:{x:0,y:1}}
  ]
});
</script></body></html>
